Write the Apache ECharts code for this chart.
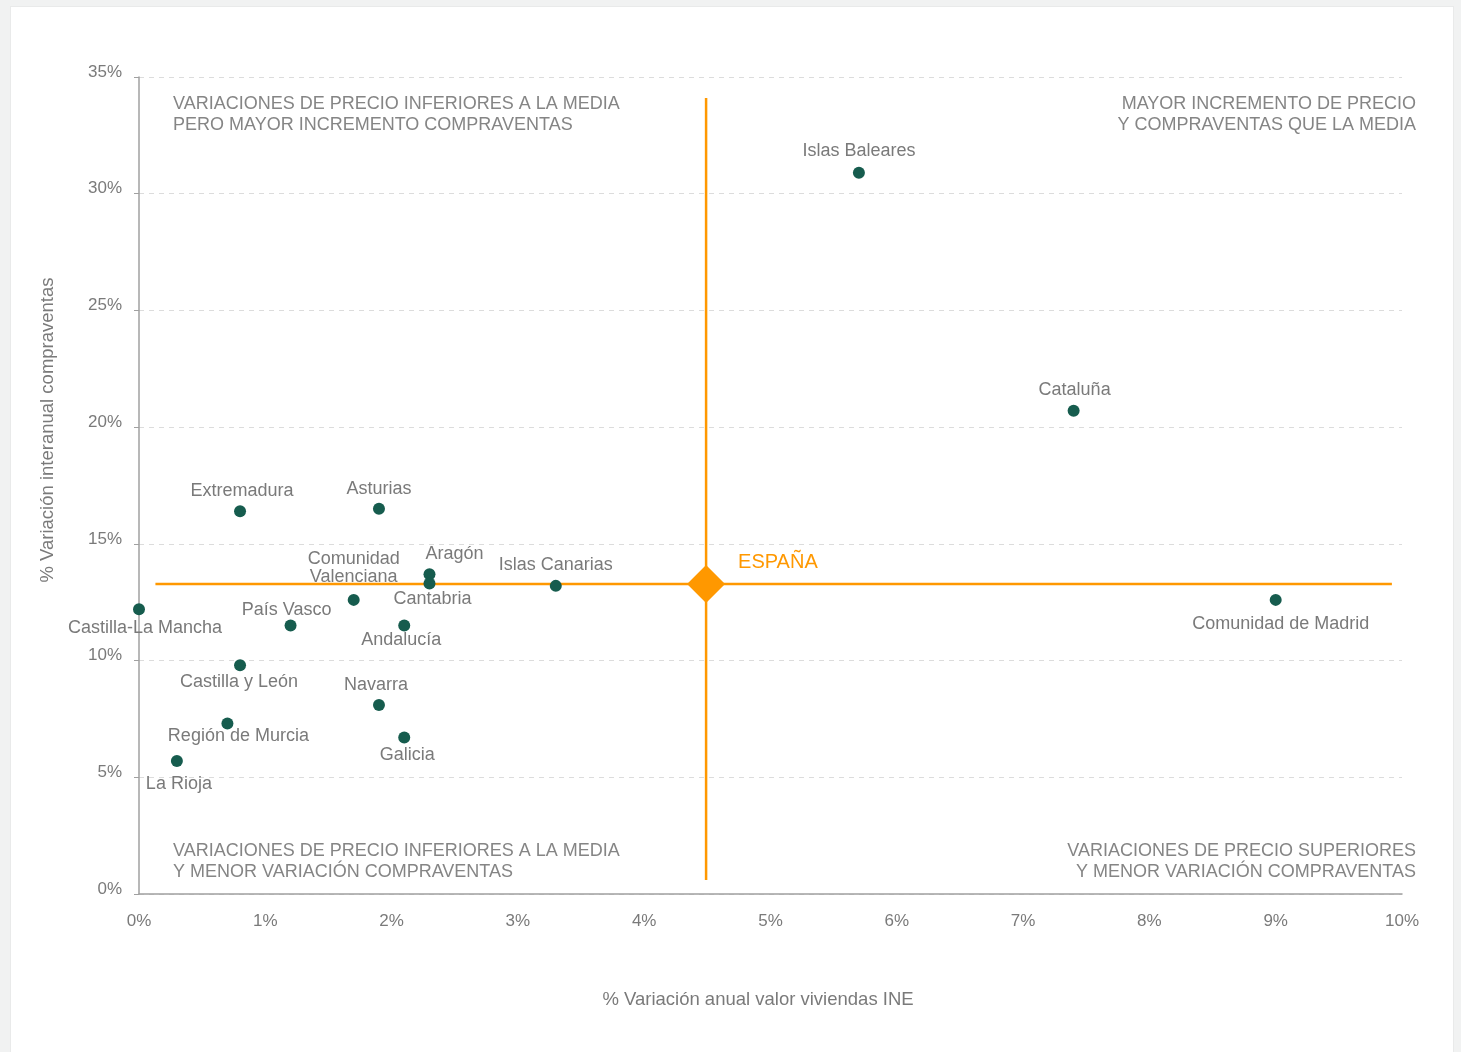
<!DOCTYPE html>
<html>
<head>
<meta charset="utf-8">
<script src="https://cdn.jsdelivr.net/npm/echarts@6/dist/echarts.min.js"></script>
<style>
html,body{margin:0;padding:0;background:#f1f2f2;width:1461px;height:1052px;overflow:hidden;}
#card{position:absolute;left:10px;top:6px;width:1444px;height:1060px;background:#fff;border:1px solid #e9eaea;box-sizing:border-box;}
#chart{position:absolute;left:0;top:0;width:1461px;height:1052px;}
</style>
</head>
<body>
<div id="card"></div>
<div id="chart"></div>
<script>
// ---- data ----
const regions = ['Islas Baleares','Cataluña','Comunidad de Madrid','Islas Canarias','Aragón','Cantabria','Comunidad\nValenciana','Asturias','Extremadura','Castilla-La Mancha','País Vasco','Andalucía','Castilla y León','Navarra','Región de Murcia','Galicia','La Rioja'];
const priceVar = [5.7, 7.4, 9.0, 3.3, 2.3, 2.3, 1.7, 1.9, 0.8, 0.0, 1.2, 2.1, 0.8, 1.9, 0.7, 2.1, 0.3];
const salesVar = [30.9, 20.7, 12.6, 13.2, 13.7, 13.3, 12.6, 16.5, 16.4, 12.2, 11.5, 11.5, 9.8, 8.1, 7.3, 6.7, 5.7];
const espana = {name:'ESPAÑA', price:4.49, sales:13.28};
const hLineX = [0.13, 9.92];
const vLineY = [0.6, 34.1];
const xTicks = [0,1,2,3,4,5,6,7,8,9,10];
const yTicks = [0,5,10,15,20,25,30,35];

// ---- label layout (style only) ----
const labelOffset = {
  'Islas Baleares':[0,-22],'Cataluña':[1,-21],'Comunidad de Madrid':[5,24],'Islas Canarias':[0,-21],
  'Aragón':[25,-20],'Cantabria':[3,15],'Comunidad\nValenciana':[0,-32],'Asturias':[0,-20],
  'Extremadura':[2,-20],'Castilla-La Mancha':[6,19],'País Vasco':[-4,-16],'Andalucía':[-3,14],
  'Castilla y León':[-1,17],'Navarra':[-3,-20],'Región de Murcia':[11,12],'Galicia':[3,17],'La Rioja':[2,23]
};

const FONT = '"Liberation Sans", Arial, Helvetica, sans-serif';
const TXT = '#7a7a7a';
const ORANGE = '#ff9800';

const pts = regions.map((n,i)=>({
  name:n, value:[priceVar[i], salesVar[i]],
  label:{offset:labelOffset[n]||[0,-20]}
}));

const chart = echarts.init(document.getElementById('chart'), null, {renderer:'canvas'});
const qStyle = {fill:'#858585', fontSize:18, fontFamily:FONT, lineHeight:21, verticalAlign:'top'};
chart.setOption({
  animation:false,
  backgroundColor:'transparent',
  grid:{left:139, right:59, top:77, bottom:158, containLabel:false},
  xAxis:{
    type:'value', min:0, max:10, interval:1,
    axisLine:{show:true, lineStyle:{color:'#a0a0a0', width:1.5}},
    axisTick:{show:false},
    splitLine:{show:false},
    axisLabel:{formatter:v=>xTicks.includes(v)?v+'%':'', color:TXT, fontSize:17, fontFamily:FONT, margin:19}
  },
  yAxis:{
    type:'value', min:0, max:35, interval:5,
    axisLine:{show:true, lineStyle:{color:'#a0a0a0', width:1.5}},
    axisTick:{show:true, length:5, lineStyle:{color:'#a0a0a0'}},
    splitLine:{show:true, lineStyle:{color:'#dcdcdc', type:[5,5], width:1}},
    axisLabel:{formatter:v=>yTicks.includes(v)?v+'%':'', color:TXT, fontSize:17, fontFamily:FONT, margin:17, verticalAlign:'bottom', lineHeight:10}
  },
  graphic:[
    {type:'text', x:173, y:94, style:Object.assign({text:'VARIACIONES DE PRECIO INFERIORES A LA MEDIA\nPERO MAYOR INCREMENTO COMPRAVENTAS', align:'left'}, qStyle)},
    {type:'text', x:1416, y:94, style:Object.assign({text:'MAYOR INCREMENTO DE PRECIO\nY COMPRAVENTAS QUE LA MEDIA', align:'right'}, qStyle)},
    {type:'text', x:173, y:841, style:Object.assign({text:'VARIACIONES DE PRECIO INFERIORES A LA MEDIA\nY MENOR VARIACIÓN COMPRAVENTAS', align:'left'}, qStyle)},
    {type:'text', x:1416, y:841, style:Object.assign({text:'VARIACIONES DE PRECIO SUPERIORES\nY MENOR VARIACIÓN COMPRAVENTAS', align:'right'}, qStyle)},
    {type:'text', x:48, y:430, rotation:Math.PI/2, style:{text:'% Variación interanual compraventas', fill:TXT, fontSize:18.5, fontFamily:FONT, align:'center', verticalAlign:'middle'}},
    {type:'text', x:758, y:1000, style:{text:'% Variación anual valor viviendas INE', fill:TXT, fontSize:18.5, fontFamily:FONT, align:'center', verticalAlign:'middle'}}
  ],
  series:[
    {type:'line', data:[[hLineX[0], espana.sales],[hLineX[1], espana.sales]], symbol:'none', lineStyle:{color:ORANGE, width:2.5}, silent:true, z:1},
    {type:'line', data:[[espana.price, vLineY[0]],[espana.price, vLineY[1]]], symbol:'none', lineStyle:{color:ORANGE, width:2.5}, silent:true, z:1},
    {type:'scatter', data:pts, symbol:'circle', symbolSize:12, itemStyle:{color:'#165c4e', opacity:1}, z:3,
      label:{show:true, position:'inside', formatter:p=>p.name, color:TXT, fontSize:18, fontFamily:FONT, lineHeight:18}},
    {type:'scatter', data:[{name:espana.name, value:[espana.price, espana.sales]}], symbol:'diamond', symbolSize:[38,38], itemStyle:{color:ORANGE, opacity:1}, z:4,
      label:{show:true, position:'right', distance:13, offset:[0,-22], formatter:p=>p.name, color:ORANGE, fontSize:20, fontFamily:FONT}}
  ]
});
</script>
</body>
</html>
